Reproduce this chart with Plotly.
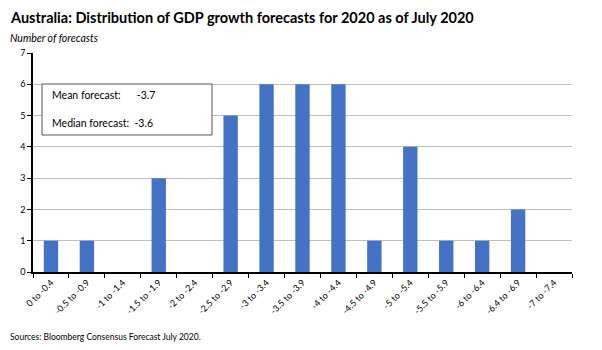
import plotly.graph_objects as go

categories = ["0 to -0.4", "-0.5 to -0.9", "-1 to -1.4", "-1.5 to -1.9", "-2 to -2.4",
              "-2.5 to -2.9", "-3 to -3.4", "-3.5 to -3.9", "-4 to -4.4", "-4.5 to -4.9",
              "-5 to -5.4", "-5.5 to -5.9", "-6 to -6.4", "-6.4 to -6.9", "-7 to -7.4"]
counts = [1, 1, 0, 3, 0, 5, 6, 6, 6, 1, 4, 1, 1, 2, 0]
y_ticks = [0, 1, 2, 3, 4, 5, 6, 7]

FONT = "Lato, Open Sans, sans-serif"

L, R, T, B = 33, 572, 53, 272
PW, PH = R - L, B - T


def px(x):
    return (x - L) / PW


def py(y):
    return (B - y) / PH


fig = go.Figure(go.Bar(x=categories, y=counts, marker=dict(color="#4472C4", line=dict(width=0)),
                       width=0.4))

fig.update_layout(
    width=602, height=350,
    margin=dict(l=L, r=602 - R, t=T, b=350 - B),
    plot_bgcolor="white", paper_bgcolor="white",
    showlegend=False,
    font=dict(family=FONT, size=9, color="#000"),
    xaxis=dict(type="category", tickangle=-45, showline=True, linecolor="#000", linewidth=1.5,
               ticks="outside", ticklen=4, tickcolor="#000", tickson="boundaries",
               showgrid=False, tickfont=dict(size=9, family=FONT)),
    yaxis=dict(range=[0, 7], tickvals=y_ticks, showline=True, linecolor="#000", linewidth=1.5,
               ticks="outside", ticklen=4, tickcolor="#000", gridcolor="#BFBFBF", gridwidth=1,
               zeroline=False, tickfont=dict(size=9, family=FONT)),
)

fig.add_annotation(xref="paper", yref="paper", x=px(8), y=py(17), xanchor="left", yanchor="middle",
                   text="<b>Australia: Distribution of GDP growth forecasts for 2020 as of July 2020</b>",
                   showarrow=False, font=dict(size=14.5, family=FONT, color="#000"))
fig.add_annotation(xref="paper", yref="paper", x=px(8), y=py(38), xanchor="left", yanchor="middle",
                   text="<i>Number of forecasts</i>", showarrow=False,
                   font=dict(size=10.5, family=FONT, color="#000"))
fig.add_annotation(xref="paper", yref="paper", x=px(8), y=py(337), xanchor="left", yanchor="middle",
                   text="Sources: Bloomberg Consensus Forecast July 2020.", showarrow=False,
                   font=dict(size=8.5, family=FONT, color="#000"))

# Text box
fig.add_shape(type="rect", xref="paper", yref="paper",
              x0=px(42), x1=px(212), y0=py(135), y1=py(84),
              line=dict(color="#555", width=1), fillcolor="white", layer="above")
fig.add_annotation(xref="paper", yref="paper", x=px(50), y=py(95), xanchor="left", yanchor="middle",
                   text="Mean forecast:&nbsp;&nbsp;&nbsp;&nbsp;&nbsp;&nbsp;-3.7", showarrow=False,
                   font=dict(size=10.5, family=FONT, color="#000"))
fig.add_annotation(xref="paper", yref="paper", x=px(50), y=py(123), xanchor="left", yanchor="middle",
                   text="Median forecast:&nbsp;&nbsp;-3.6", showarrow=False,
                   font=dict(size=10.5, family=FONT, color="#000"))

fig.write_html("out.html")
